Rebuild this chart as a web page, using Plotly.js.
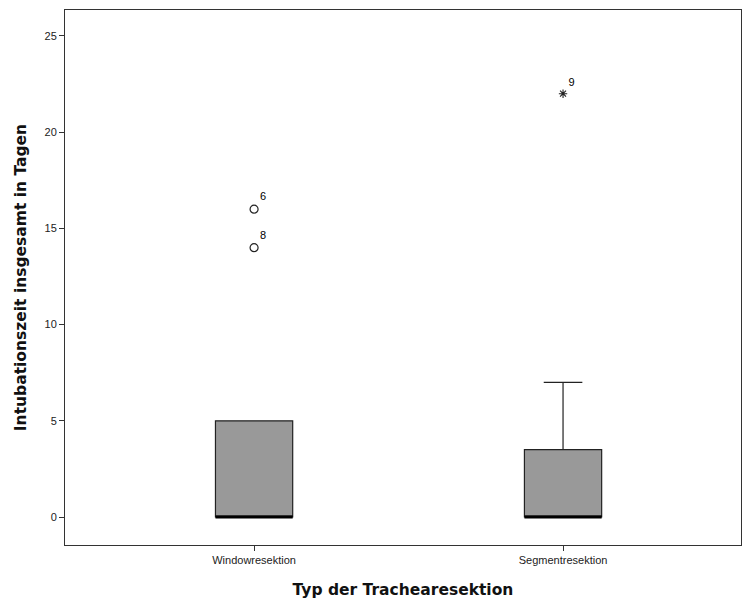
<!DOCTYPE html>
<html>
<head>
<meta charset="utf-8">
<script src="https://cdn.plot.ly/plotly-3.0.1.min.js"></script>
<style>html,body{margin:0;padding:0;background:#fff;}#chart{width:744px;height:601px;}</style>
</head>
<body>
<div id="chart"></div>
<script>
// Data
const categories = ["Windowresektion", "Segmentresektion"];
const q1 = [0, 0];
const median = [0, 0];
const q3 = [5, 3.5];
const lowerFence = [0, 0];
const upperFence = [5, 7];
// Outliers / extremes
const outlierGroup = [0, 0];
const outlierValues = [16, 14];
const outlierLabels = ["6", "8"];
const extremeGroup = [1];
const extremeValues = [22];
const extremeLabels = ["9"];

const FONT = 'Liberation Sans, Arial, sans-serif';
const TFONT = 'DejaVu Sans, Liberation Sans, sans-serif';
const boxWidth = 0.25;
const traces = [];
categories.forEach((c, i) => {
  traces.push({
    type: 'box',
    x: [i],
    q1: [q1[i]], median: [median[i]], q3: [q3[i]],
    lowerfence: [lowerFence[i]], upperfence: [upperFence[i]],
    width: boxWidth,
    whiskerwidth: 0.5,
    fillcolor: '#999999',
    line: {color: '#222222', width: 1.2},
    boxpoints: false,
    hoverinfo: 'skip',
    showlegend: false
  });
  traces.push({
    type: 'scatter', mode: 'lines',
    x: [i - boxWidth / 2, i + boxWidth / 2],
    y: [median[i], median[i]],
    line: {color: '#000000', width: 3},
    hoverinfo: 'skip', showlegend: false
  });
});
traces.push({
  type: 'scatter', mode: 'markers+text',
  x: outlierGroup, y: outlierValues, text: outlierLabels,
  textposition: 'top right',
  textfont: {family: FONT, size: 11, color: '#000000'},
  marker: {symbol: 'circle-open', size: 8, color: '#222', line: {width: 1.2, color: '#222'}},
  hoverinfo: 'skip', showlegend: false
});
traces.push({
  type: 'scatter', mode: 'markers+text',
  x: extremeGroup, y: extremeValues, text: extremeLabels,
  textposition: 'top right',
  textfont: {family: FONT, size: 11, color: '#000000'},
  marker: {symbol: 'asterisk-open', size: 7, color: '#222', line: {width: 1.1, color: '#222'}},
  hoverinfo: 'skip', showlegend: false
});

const layout = {
  width: 744, height: 601,
  margin: {l: 65, r: 3, t: 10, b: 56},
  paper_bgcolor: '#fff', plot_bgcolor: '#fff',
  font: {family: FONT, color: '#222', size: 11},
  xaxis: {
    range: [-0.612, 1.576],
    tickvals: categories.map((c, i) => i),
    ticktext: categories,
    ticks: 'outside', ticklen: 5, tickcolor: '#333',
    showgrid: false, zeroline: false,
    showline: true, linecolor: '#333', linewidth: 1, mirror: true,
    tickfont: {size: 11, color: '#222'},
    title: {text: 'Typ der Trachearesektion', font: {size: 15.5, color: '#111', family: TFONT, weight: 'bold'}, standoff: 18}
  },
  yaxis: {
    range: [-1.455, 26.35],
    tickvals: [0, 5, 10, 15, 20, 25],
    ticks: 'outside', ticklen: 5, tickcolor: '#333',
    showgrid: false, zeroline: false,
    showline: true, linecolor: '#333', linewidth: 1, mirror: true,
    tickfont: {size: 11, color: '#222'},
    title: {text: 'Intubationszeit insgesamt in Tagen', font: {size: 15.5, color: '#111', family: TFONT, weight: 'bold'}, standoff: 14}
  }
};
Plotly.newPlot('chart', traces, layout, {staticPlot: true, displayModeBar: false});
</script>
</body>
</html>
